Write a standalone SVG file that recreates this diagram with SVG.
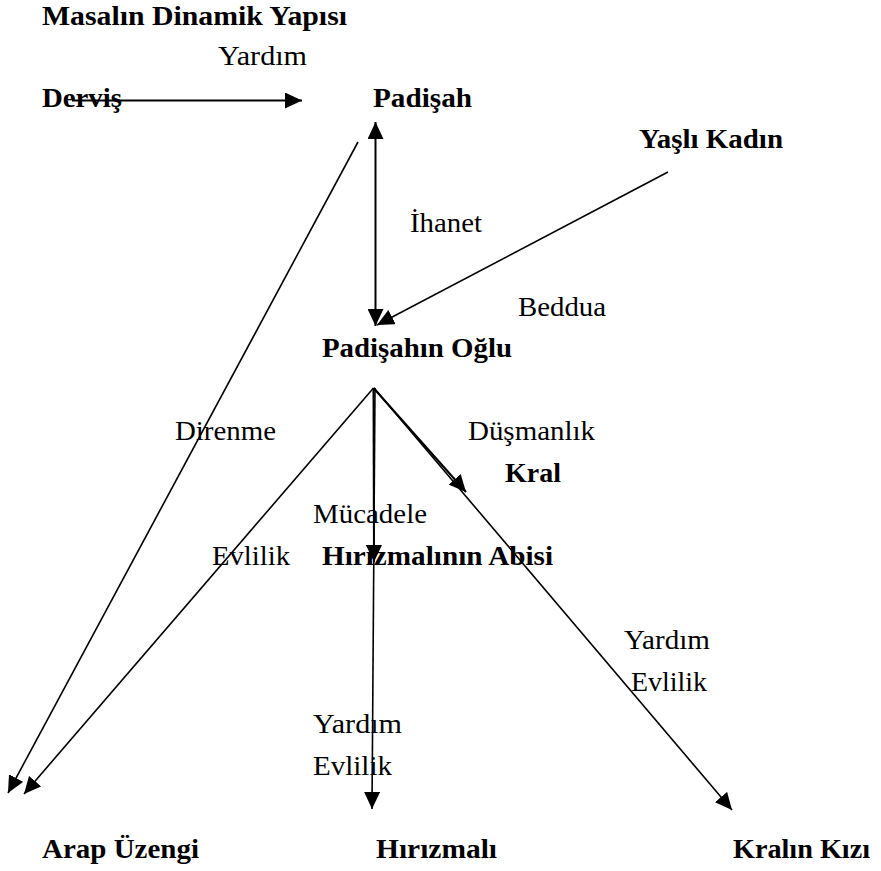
<svg xmlns="http://www.w3.org/2000/svg" width="881" height="871" viewBox="0 0 881 871">
  <style>
    text { font-family: "Liberation Serif", "Times New Roman", serif; font-size: 28px; fill: #000; }
    .node text, text.b { font-weight: bold; }
    .edge { stroke: #000; stroke-width: 1.6; fill: none; }
    .edge.thick { stroke-width: 2; }
    .arrow { marker-end: url(#head); }
  </style>
  <defs>
    <marker id="head" markerUnits="userSpaceOnUse" markerWidth="17" markerHeight="16" viewBox="0 0 17 16" refX="17" refY="8" orient="auto">
      <path d="M0,0 L17,8 L0,16 z" fill="#000"/>
    </marker>
    <marker id="headStart" markerUnits="userSpaceOnUse" markerWidth="17" markerHeight="16" viewBox="0 0 17 16" refX="17" refY="8" orient="auto-start-reverse">
      <path d="M0,0 L17,8 L0,16 z" fill="#000"/>
    </marker>
  </defs>

  <text class="b" x="42" y="25" textLength="305" lengthAdjust="spacingAndGlyphs">Masalın Dinamik Yapısı</text>

  <!-- connectors -->
  <g id="connectors">
    <line class="edge thick arrow" x1="72" y1="100.5" x2="302" y2="100.5"/>
    <line class="edge thick" x1="375.5" y1="122" x2="375.5" y2="326" marker-start="url(#headStart)" marker-end="url(#head)"/>
    <line class="edge arrow" x1="668" y1="172" x2="377" y2="325"/>
    <line class="edge arrow" x1="358" y1="142" x2="8" y2="793"/>
    <line class="edge arrow" x1="373.5" y1="388" x2="24" y2="794"/>
    <line class="edge thick arrow" x1="373.5" y1="388" x2="374" y2="562"/>
    <line class="edge arrow" x1="375" y1="388" x2="372" y2="809"/>
    <line class="edge thick arrow" x1="373.5" y1="388" x2="466" y2="492"/>
    <line class="edge arrow" x1="374" y1="388" x2="732" y2="810"/>
  </g>

  <!-- connector labels -->
  <g id="labels">
    <text x="218" y="65" textLength="89" lengthAdjust="spacingAndGlyphs">Yardım</text>
    <text x="410" y="232" textLength="72" lengthAdjust="spacingAndGlyphs">İhanet</text>
    <text x="518" y="316" textLength="88" lengthAdjust="spacingAndGlyphs">Beddua</text>
    <text x="175" y="440" textLength="101" lengthAdjust="spacingAndGlyphs">Direnme</text>
    <text x="468" y="440" textLength="127" lengthAdjust="spacingAndGlyphs">Düşmanlık</text>
    <text x="313" y="523" textLength="114" lengthAdjust="spacingAndGlyphs">Mücadele</text>
    <text x="212" y="565" textLength="78" lengthAdjust="spacingAndGlyphs">Evlilik</text>
    <text x="624" y="649" textLength="86" lengthAdjust="spacingAndGlyphs">Yardım</text>
    <text x="631" y="691" textLength="76" lengthAdjust="spacingAndGlyphs">Evlilik</text>
    <text x="313" y="733" textLength="89" lengthAdjust="spacingAndGlyphs">Yardım</text>
    <text x="313" y="775" textLength="79" lengthAdjust="spacingAndGlyphs">Evlilik</text>
  </g>

  <!-- nodes -->
  <g id="dervis" class="node"><text x="42" y="107" textLength="80" lengthAdjust="spacingAndGlyphs">Derviş</text></g>
  <g id="padisah" class="node"><text x="373" y="107" textLength="99" lengthAdjust="spacingAndGlyphs">Padişah</text></g>
  <g id="yasli-kadin" class="node"><text x="639" y="148" textLength="144" lengthAdjust="spacingAndGlyphs">Yaşlı Kadın</text></g>
  <g id="padisahin-oglu" class="node"><text x="322" y="357" textLength="190" lengthAdjust="spacingAndGlyphs">Padişahın Oğlu</text></g>
  <g id="kral" class="node"><text x="505" y="482" textLength="56" lengthAdjust="spacingAndGlyphs">Kral</text></g>
  <g id="hirizmalinin-abisi" class="node"><text x="322" y="565" textLength="231" lengthAdjust="spacingAndGlyphs">Hırızmalının Abisi</text></g>
  <g id="arap-uzengi" class="node"><text x="42" y="858" textLength="157" lengthAdjust="spacingAndGlyphs">Arap Üzengi</text></g>
  <g id="hirizmali" class="node"><text x="376" y="858" textLength="121" lengthAdjust="spacingAndGlyphs">Hırızmalı</text></g>
  <g id="kralin-kizi" class="node"><text x="733" y="858" textLength="137" lengthAdjust="spacingAndGlyphs">Kralın Kızı</text></g>
</svg>
